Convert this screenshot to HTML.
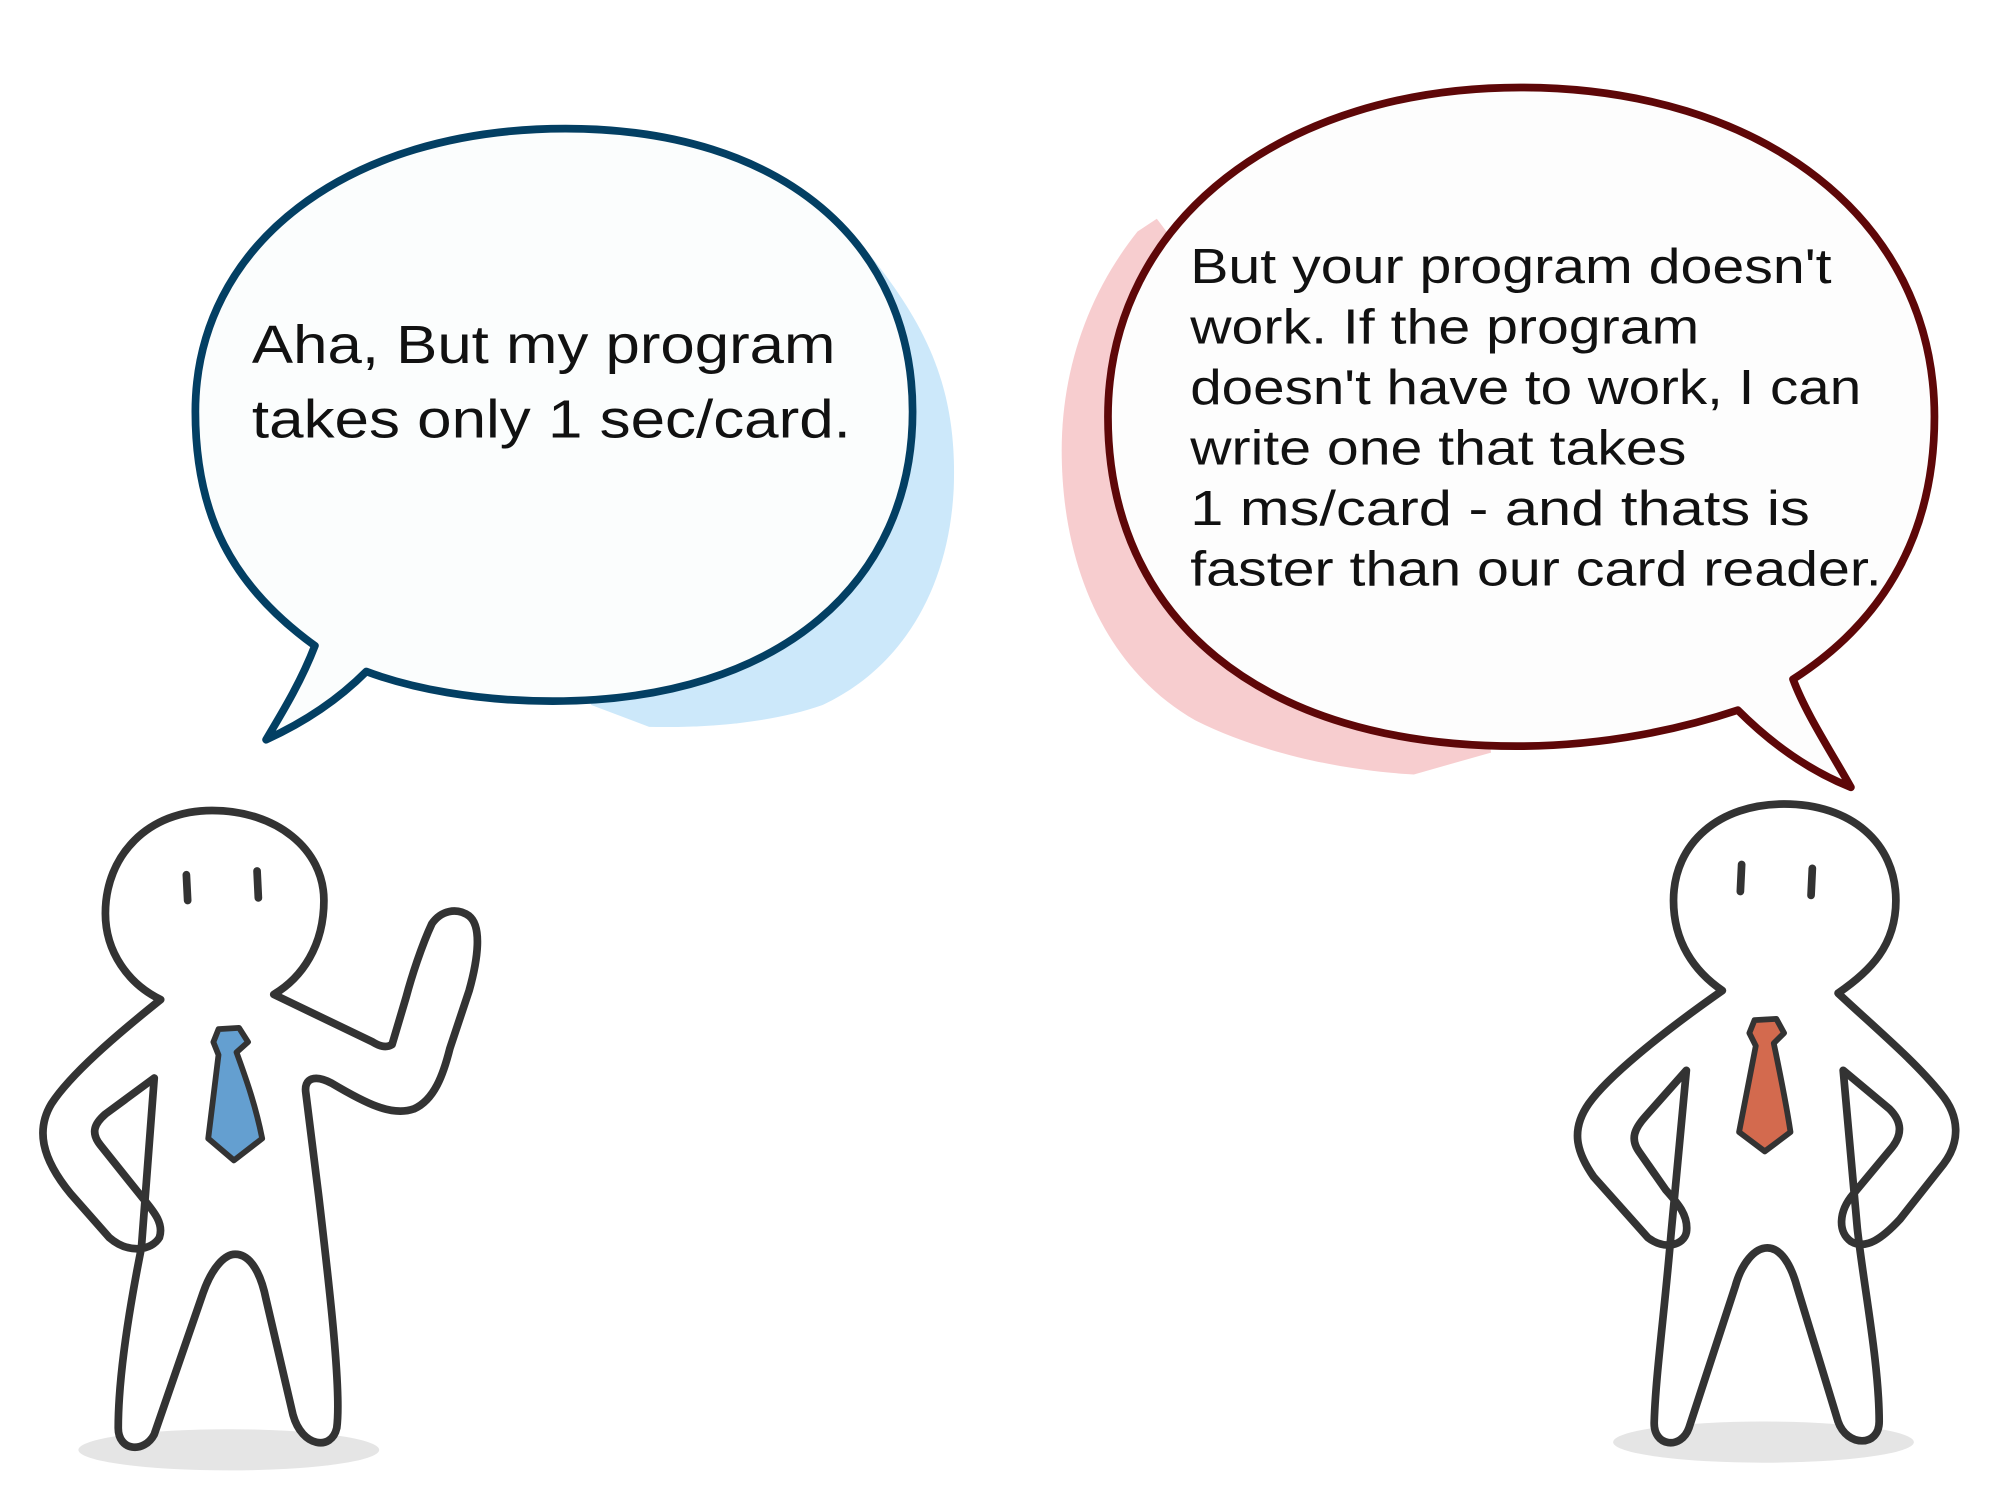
<!DOCTYPE html>
<html><head><meta charset="utf-8"><style>
html,body{margin:0;padding:0;background:#fff;width:2000px;height:1500px;overflow:hidden}
svg{display:block}
text{font-family:"Liberation Sans",sans-serif;fill:#111}
</style></head><body>
<svg width="2000" height="1500" viewBox="0 0 1556 1166" preserveAspectRatio="none" xmlns="http://www.w3.org/2000/svg">
<path d="M670,190 C720,250 745,300 742,380 C738,460 700,520 640,548 C600,562 550,566 505,565 L460,548 L440,480 L600,200 Z" fill="#cce8fa"/>
<path d="M245,502 C180,455 152,400 152,320 C152,190 270,100 440,100 C610,100 710,190 710,320 C710,450 610,545 430,545 C370,545 320,535 285,522 C265,542 240,560 207,575 C222,550 235,528 245,502 Z" fill="#fbfdfd" stroke="#033f63" stroke-width="6" stroke-linejoin="round"/>
<text x="196" y="282" font-size="42" textLength="454" lengthAdjust="spacingAndGlyphs">Aha, But my program</text>
<text x="196" y="340" font-size="42" textLength="466" lengthAdjust="spacingAndGlyphs">takes only 1 sec/card.</text>

<path d="M885,180 C845,230 826,290 826,350 C826,440 860,520 930,560 C990,590 1060,600 1100,602 L1160,585 L1150,500 L900,170 Z" fill="#f7cdcf"/>
<path d="M1395,528 C1470,480 1505,410 1505,324 C1505,170 1370,68 1183,68 C1000,68 862,170 862,324 C862,480 980,580 1180,580 C1250,580 1310,566 1352,552 C1380,580 1410,600 1440,612 C1425,585 1405,555 1395,528 Z" fill="#fdfdfd" stroke="#5e0708" stroke-width="6" stroke-linejoin="round"/>
<g font-size="38">
<text x="926" y="220" textLength="499" lengthAdjust="spacingAndGlyphs">But your program doesn't</text>
<text x="926" y="267" textLength="396" lengthAdjust="spacingAndGlyphs">work. If the program</text>
<text x="926" y="314" textLength="522" lengthAdjust="spacingAndGlyphs">doesn't have to work, I can</text>
<text x="926" y="361" textLength="386" lengthAdjust="spacingAndGlyphs">write one that takes</text>
<text x="926" y="408" textLength="482" lengthAdjust="spacingAndGlyphs">1 ms/card  - and thats is</text>
<text x="926" y="455" textLength="538" lengthAdjust="spacingAndGlyphs">faster than our card reader.</text>
</g>

<ellipse cx="178" cy="1127" rx="117" ry="16" fill="#e5e5e5"/>
<ellipse cx="1372" cy="1121" rx="117" ry="16" fill="#e5e5e5"/>

<g fill="#fff" stroke="#333" stroke-width="6" stroke-linejoin="round" stroke-linecap="round">
<path d="M125,777 C90,805 55,835 40,858 C28,878 32,900 55,928 L85,962 C100,975 118,972 124,962 C128,950 118,940 110,930 L78,890 C70,880 74,873 82,866 L120,838 L110,970 C100,1020 92,1070 92,1110 C92,1128 112,1130 120,1115 L158,1005 C165,985 175,975 183,975 C195,975 203,990 207,1010 L228,1100 C235,1125 258,1128 262,1110 C266,1080 255,990 248,930 L238,850 C236,838 245,835 258,842 C285,858 305,868 322,862 C338,855 345,835 350,815 L365,770 C372,745 375,720 365,712 C355,705 343,708 336,718 C328,735 320,760 316,775 L305,812 C300,815 295,813 290,810 L213,773 C235,760 252,735 252,700 C252,660 215,630 165,630 C115,630 82,665 82,710 C82,740 100,765 125,777 Z"/>
<path d="M145,680 L146,700 M200,677 L201,698" fill="none"/>
<path d="M170,800 L186,799 L193,810 L184,818 C192,840 199,860 204,885 L182,902 L162,885 L170,820 L166,810 Z" fill="#649fd0" stroke-width="4.5"/>
</g>

<g fill="#fff" stroke="#333" stroke-width="6" stroke-linejoin="round" stroke-linecap="round">
<path d="M1340,770 C1290,805 1250,838 1236,858 C1222,878 1226,895 1240,915 L1282,962 C1295,972 1310,968 1312,958 C1314,945 1305,935 1296,925 L1275,895 C1268,885 1272,877 1280,868 L1312,832 L1300,960 C1295,1020 1288,1070 1287,1105 C1286,1125 1308,1127 1314,1110 L1350,1000 C1355,982 1365,970 1375,970 C1385,970 1393,982 1398,1000 L1430,1105 C1437,1125 1462,1125 1462,1105 C1462,1060 1450,1000 1445,955 L1434,832 L1470,862 C1480,872 1480,882 1472,892 L1442,928 C1430,942 1430,958 1440,965 C1452,972 1465,962 1478,948 L1512,905 C1525,888 1525,868 1510,850 C1490,825 1460,800 1430,772 C1455,755 1475,735 1475,700 C1475,655 1440,625 1388,625 C1338,625 1302,655 1302,700 C1302,732 1318,755 1340,770 Z"/>
<path d="M1355,672 L1354,693 M1410,675 L1409,696" fill="none"/>
<path d="M1365,793 L1382,792 L1388,803 L1380,811 C1385,835 1390,860 1393,880 L1373,895 L1353,880 L1366,813 L1361,803 Z" fill="#d36a4e" stroke-width="4.5"/>
</g>
</svg>
</body></html>
